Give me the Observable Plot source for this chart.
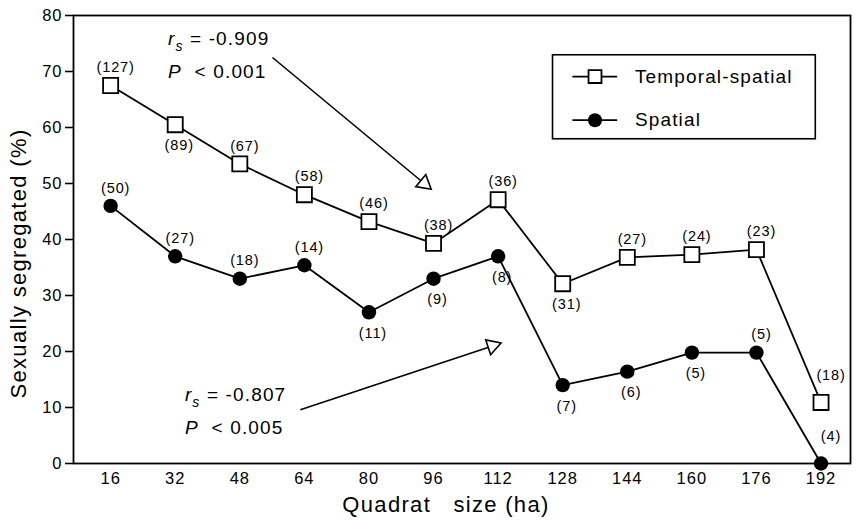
<!DOCTYPE html>
<html>
<head>
<meta charset="utf-8">
<script src="https://cdn.jsdelivr.net/npm/d3@7"></script>
<script src="https://cdn.jsdelivr.net/npm/@observablehq/plot@0.6"></script>
<style>
  html, body { margin: 0; padding: 0; background: #fff; }
  #chart svg text { white-space: pre; letter-spacing: 0.06em; }
</style>
</head>
<body>
<div id="chart"></div>
<script>
// ---- data ----
const quadratSizes = [16, 32, 48, 64, 80, 96, 112, 128, 144, 160, 176, 192];
const temporalSpatial = [67.5, 60.5, 53.5, 48, 43.2, 39.3, 47.1, 32.1, 36.8, 37.3, 38.2, 10.9];
const spatial = [46, 37, 33, 35.4, 27, 33, 37, 14, 16.4, 19.8, 19.8, 0];
const temporalSpatialN = [127, 89, 67, 58, 46, 38, 36, 31, 27, 24, 23, 18];
const spatialN = [50, 27, 18, 14, 11, 9, 8, 7, 6, 5, 5, 4];
const temporalSpatialLabelSide = ["above", "below", "above", "above", "above", "above", "above", "below", "above", "above", "above", "aboveRight"];
const spatialLabelSide = ["above", "above", "above", "above", "below", "below", "below", "below", "below", "below", "above", "aboveRight"];
const yTicks = [0, 10, 20, 30, 40, 50, 60, 70, 80];
const seriesNames = ["Temporal-spatial", "Spatial"];
const statsTemporalSpatial = ["rs = -0.909", "P  < 0.001"];
const statsSpatial = ["rs = -0.807", "P  < 0.005"];
const xTitle = "Quadrat   size (ha)";
const yTitle = "Sexually segregated (%)";

// ---- tables ----
const tsData = quadratSizes.map((q, i) => ({q, v: temporalSpatial[i], n: `(${temporalSpatialN[i]})`, side: temporalSpatialLabelSide[i]}));
const spData = quadratSizes.map((q, i) => ({q, v: spatial[i], n: `(${spatialN[i]})`, side: spatialLabelSide[i]}));
const allLabels = tsData.concat(spData);

const FONT = "'Liberation Sans', Arial, Helvetica, sans-serif";
const labelMarks = [
  ["above", 5, -18],
  ["below", 4, 21],
  ["aboveRight", 10, -27]
].map(([side, dx, dy]) => Plot.text(allLabels.filter(d => d.side === side), {
  x: "q", y: "v", text: "n", dx, dy, fontSize: 14.5, fill: "black"
}));

const chart = Plot.plot({
  width: 858,
  height: 524,
  marginLeft: 73,
  marginRight: 8,
  marginTop: 15,
  marginBottom: 61,
  style: {fontFamily: FONT, color: "#000", background: "#fff", overflow: "visible"},
  x: {type: "linear", domain: [6.8, 199.3]},
  y: {domain: [0, 80]},
  marks: [
    Plot.frame({stroke: "black", strokeWidth: 1.8}),
    Plot.axisY({ticks: yTicks, tickSize: 8, tickPadding: 3, fontSize: 16.5, label: null, strokeWidth: 1.6}),
    Plot.axisX({ticks: quadratSizes, tickSize: 0, tickPadding: 9, fontSize: 16.5, label: null}),
    Plot.text([xTitle], {frameAnchor: "bottom", dx: -16, dy: 48, fontSize: 22, fill: "black"}),
    Plot.text([yTitle], {frameAnchor: "left", textAnchor: "middle", lineAnchor: "middle", dx: -55, dy: 24, rotate: -90, fontSize: 22, fill: "black"}),

    // series
    Plot.line(tsData, {x: "q", y: "v", stroke: "black", strokeWidth: 1.8}),
    Plot.line(spData, {x: "q", y: "v", stroke: "black", strokeWidth: 1.8}),
    Plot.dot(tsData, {x: "q", y: "v", symbol: "square", r: 8.5, fill: "white", stroke: "black", strokeWidth: 1.8}),
    Plot.dot(spData, {x: "q", y: "v", symbol: "circle", r: 7.2, fill: "black"}),
    ...labelMarks,

    // statistics annotations with arrows
    Plot.text(statsTemporalSpatial, {x: 30.2, y: (d, i) => [75.9, 69.9][i], text: d => d, textAnchor: "start", fontSize: 19, fill: "black"}),
    Plot.link([0], {x1: 56.1, y1: 72.5, x2: 93.7, y2: 50.0, stroke: "black", strokeWidth: 1.6}),
    Plot.dot([0], {x: 93.7, y: 50.0, symbol: "triangle", r: 5.8, rotate: 129.7, fill: "white", stroke: "black", strokeWidth: 1.6}),
    Plot.text(statsSpatial, {x: 34.4, y: (d, i) => [12.2, 6.3][i], text: d => d, textAnchor: "start", fontSize: 19, fill: "black"}),
    Plot.link([0], {x1: 63.0, y1: 9.6, x2: 110.6, y2: 21.0, stroke: "black", strokeWidth: 1.6}),
    Plot.dot([0], {x: 110.6, y: 21.0, symbol: "triangle", r: 5.8, rotate: 71.8, fill: "white", stroke: "black", strokeWidth: 1.6}),

    // legend
    Plot.rect([0], {x1: 125.6, x2: 190.7, y1: 57.9, y2: 72.9, fill: "white", stroke: "black", strokeWidth: 1.6}),
    Plot.link([0, 1], {x1: 130.4, x2: 141.5, y1: i => [69.1, 61.3][i], y2: i => [69.1, 61.3][i], stroke: "black", strokeWidth: 1.8}),
    Plot.dot([0], {x: 136, y: 69.1, symbol: "square", r: 7.3, fill: "white", stroke: "black", strokeWidth: 1.8}),
    Plot.dot([0], {x: 136, y: 61.3, symbol: "circle", r: 7, fill: "black"}),
    Plot.text(seriesNames, {x: 145.9, y: (d, i) => [69.1, 61.3][i], text: d => d, textAnchor: "start", fontSize: 19, fill: "black"})
  ]
});

// rich text for statistics: italic r with subscript s, italic P
const NS = "http://www.w3.org/2000/svg";
function rich(t, parts) {
  while (t.firstChild) t.removeChild(t.firstChild);
  for (const p of parts) {
    const ts = document.createElementNS(NS, "tspan");
    ts.textContent = p.text;
    for (const k in (p.attrs || {})) ts.setAttribute(k, p.attrs[k]);
    t.appendChild(ts);
  }
}
chart.querySelectorAll("text").forEach(t => {
  const s = t.textContent;
  if (s.startsWith("rs =")) {
    rich(t, [
      {text: "r", attrs: {"font-style": "italic"}},
      {text: "s", attrs: {"font-style": "italic", "font-size": "14", dy: "6"}},
      {text: s.slice(2), attrs: {dy: "-6"}}
    ]);
  } else if (s.startsWith("P  <")) {
    rich(t, [
      {text: "P", attrs: {"font-style": "italic"}},
      {text: s.slice(1)}
    ]);
  }
});

document.getElementById("chart").appendChild(chart);
</script>
</body>
</html>
